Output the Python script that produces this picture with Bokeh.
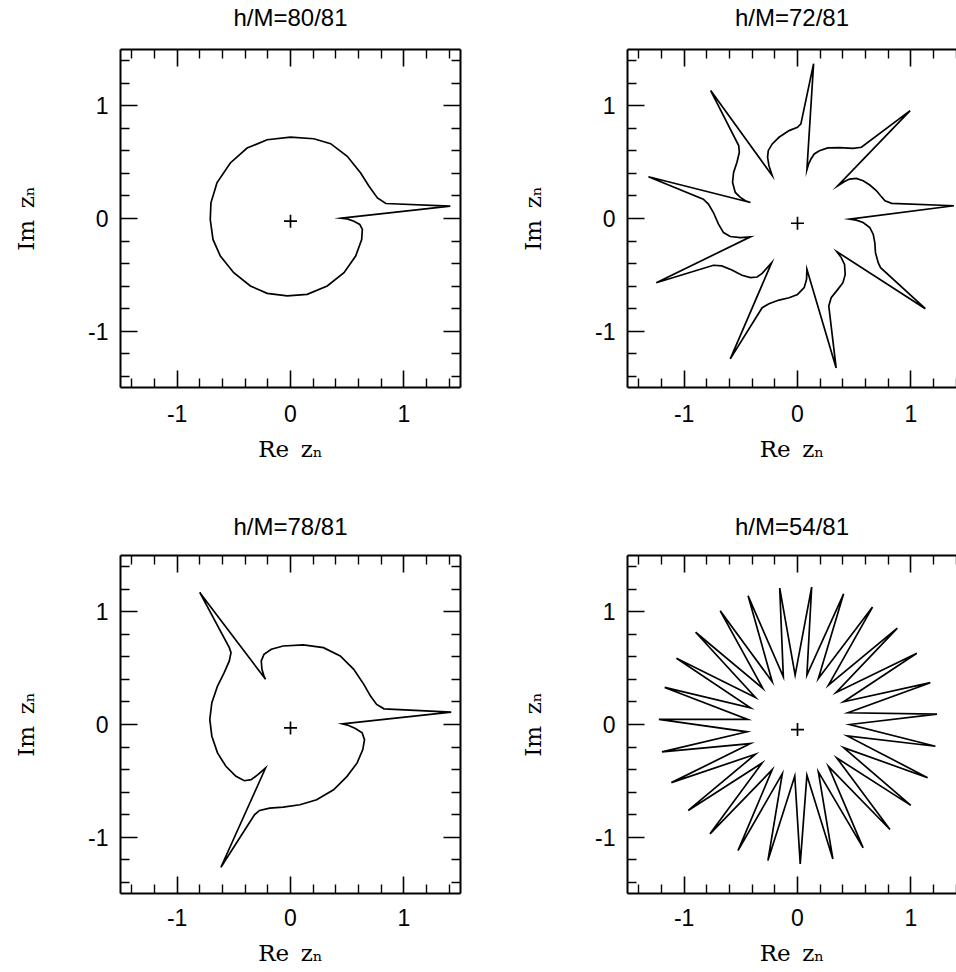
from bokeh.plotting import figure
from bokeh.models import LinearAxis, FixedTicker, Range1d
from bokeh.layouts import column, row
from bokeh.embed import file_html
from bokeh.resources import INLINE

# ---------------- data ----------------
TITLES = ["h/M=80/81", "h/M=72/81", "h/M=78/81", "h/M=54/81"]
MAJOR_TICKS = [-1, 0, 1]
MINOR_TICKS = [-1.4, -1.2, -0.8, -0.6, -0.4, -0.2, 0.2, 0.4, 0.6, 0.8, 1.2, 1.4]
TICK_LABELS = {-1: "-1", 0: "0", 1: "1"}
X_LABEL = "Re\u2002z\u2099"
Y_LABEL = "Im\u2002z\u2099"

# h/M = 80/81
RE_80 = [0.451, 1.410, 0.841, 0.767, 0.693, 0.619, 0.501, 0.354, 0.206, 0.000,
         -0.206, -0.383, -0.531, -0.649, -0.702, -0.708, -0.684, -0.619, -0.501,
         -0.354, -0.206, -0.029, 0.147, 0.324, 0.472, 0.575, 0.628, 0.634, 0.611,
         0.560, 0.501]
IM_80 = [0.003, 0.109, 0.133, 0.183, 0.286, 0.404, 0.552, 0.664, 0.708, 0.723,
         0.699, 0.625, 0.493, 0.316, 0.139, -0.009, -0.186, -0.333, -0.481,
         -0.599, -0.664, -0.687, -0.673, -0.599, -0.481, -0.333, -0.186, -0.097,
         -0.053, -0.024, -0.003]

# h/M = 72/81
RE_72 = [0.460, 1.380, 0.831, 0.772, 0.733, 0.697, 0.638, 0.579, 0.519, 0.460, 0.415,
         0.356, 0.994, 0.564, 0.490, 0.371, 0.267, 0.193, 0.148, 0.119, 0.098,
         0.083, 0.142, 0.030, 0.000, -0.074, -0.163, -0.223, -0.258, -0.264, -0.252,
         -0.223, -0.766, -0.519, -0.513, -0.534, -0.564, -0.573, -0.549, -0.504, -0.460,
         -0.415, -1.315, -0.831, -0.786, -0.742, -0.697, -0.653, -0.593, -0.504,
         -0.415, -1.246, -0.742, -0.668, -0.579, -0.490, -0.415, -0.356, -0.312,
         -0.228, -0.593, -0.312, -0.252, -0.163, -0.074, 0.000, 0.059, 0.080,
         0.083, 0.341, 0.276, 0.297, 0.356, 0.401, 0.421, 0.415, 0.386,
         0.347, 1.128, 0.733, 0.712, 0.688, 0.682, 0.668, 0.638, 0.579, 0.519]
IM_72 = [-0.006, 0.113, 0.134, 0.157, 0.202, 0.246, 0.297, 0.335, 0.356, 0.350, 0.329,
         0.291, 0.958, 0.632, 0.623, 0.629, 0.626, 0.602, 0.573, 0.528, 0.484,
         0.433, 1.374, 0.840, 0.810, 0.780, 0.721, 0.662, 0.602, 0.543, 0.469,
         0.380, 1.136, 0.647, 0.588, 0.499, 0.409, 0.320, 0.231, 0.187, 0.157,
         0.142, 0.371, 0.172, 0.128, 0.053, -0.050, -0.125, -0.160, -0.169,
         -0.163, -0.570, -0.415, -0.421, -0.457, -0.504, -0.525, -0.519, -0.487,
         -0.392, -1.246, -0.792, -0.757, -0.724, -0.703, -0.674, -0.614, -0.540,
         -0.451, -1.326, -0.777, -0.703, -0.629, -0.570, -0.496, -0.407, -0.347,
         -0.294, -0.801, -0.436, -0.392, -0.303, -0.214, -0.139, -0.080, -0.036, -0.015]

# h/M = 78/81
RE_78 = [0.457, 1.418, 0.825, 0.760, 0.706, 0.647, 0.558, 0.439, 0.291, 0.113, -0.065,
         -0.169, -0.234, -0.258, -0.252, -0.234,
         -0.220, -0.801, -0.540, -0.525, -0.540, -0.585, -0.644, -0.694, -0.712, -0.694,
         -0.644, -0.570, -0.481, -0.407, -0.347, -0.288,
         -0.220, -0.614, -0.318, -0.273, -0.184, -0.065, 0.083, 0.231, 0.380, 0.499,
         0.588, 0.638, 0.653, 0.632, 0.573, 0.513]
IM_78 = [0.006, 0.110, 0.139, 0.178, 0.252, 0.356, 0.490, 0.608, 0.682, 0.706, 0.697,
         0.668, 0.623, 0.564, 0.490, 0.430,
         0.401, 1.172, 0.682, 0.638, 0.564, 0.460, 0.341, 0.193, 0.045, -0.104,
         -0.252, -0.371, -0.460, -0.499, -0.490, -0.445,
         -0.386, -1.267, -0.801, -0.763, -0.742, -0.733, -0.712, -0.668, -0.579, -0.460,
         -0.341, -0.223, -0.134, -0.074, -0.036, -0.009]

# h/M = 54/81 : inner cusps and outer tips, counter-clockwise
CUSP_RE_54 = [0.460, 0.445, 0.407, 0.341, 0.273, 0.184, 0.083, -0.021, -0.125, -0.223,
              -0.306, -0.371, -0.415, -0.439, -0.445, -0.415, -0.371, -0.312, -0.223,
              -0.134, -0.024, 0.083, 0.184, 0.273, 0.347, 0.407, 0.439]
CUSP_IM_54 = [0.000, 0.104, 0.202, 0.285, 0.350, 0.409, 0.439, 0.439, 0.424, 0.380,
              0.320, 0.240, 0.148, 0.045, -0.065, -0.169, -0.264, -0.341, -0.401,
              -0.436, -0.457, -0.451, -0.421, -0.371, -0.297, -0.205, -0.101]
TIP_RE_54 = [1.231, 1.172, 1.053, 0.881, 0.662, 0.407, 0.125, -0.157, -0.436, -0.682,
             -0.899, -1.068, -1.172, -1.223, -1.196, -1.113, -0.964, -0.772, -0.525,
             -0.261, 0.024, 0.312, 0.579, 0.816, 1.000, 1.148, 1.217]
TIP_IM_54 = [0.092, 0.371, 0.632, 0.855, 1.042, 1.160, 1.220, 1.211, 1.142, 1.009,
             0.819, 0.588, 0.329, 0.045, -0.243, -0.516, -0.763, -0.970, -1.119,
             -1.208, -1.237, -1.193, -1.095, -0.932, -0.718, -0.472, -0.193]

# the "+" marking the origin sits slightly low in each panel
ORIGIN_MARK_Y = [-0.024, -0.042, -0.030, -0.045]

RE_54, IM_54 = [], []
for cr, ci, tr, ti in zip(CUSP_RE_54, CUSP_IM_54, TIP_RE_54, TIP_IM_54):
    RE_54 += [cr, tr]
    IM_54 += [ci, ti]

SANS = "Liberation Sans"
SERIF = "DejaVu Serif"
PX_PER_UNIT = 340 / 3.0


def style_axis(ax, with_labels):
    ax.ticker = FixedTicker(ticks=MAJOR_TICKS, minor_ticks=MINOR_TICKS)
    ax.axis_line_color = "black"
    ax.axis_line_width = 2
    ax.major_tick_in = 17
    ax.major_tick_out = 0
    ax.minor_tick_in = 9
    ax.minor_tick_out = 0
    ax.major_tick_line_color = "black"
    ax.minor_tick_line_color = "black"
    ax.major_tick_line_width = 1.6
    ax.minor_tick_line_width = 1.4
    ax.axis_label_text_font_style = "normal"
    ax.axis_label_text_color = "black"
    if with_labels:
        ax.major_label_overrides = TICK_LABELS
        ax.major_label_text_font = SANS
        ax.major_label_text_font_size = "23px"
        ax.major_label_text_color = "black"
        ax.axis_label_text_font = SERIF
        ax.axis_label_text_font_size = "23px"
    else:
        # frame side with ticks only: tick labels are not painted
        ax.major_label_text_color = None
        ax.major_label_text_font_size = "1px"
        ax.major_label_standoff = 0


def make_panel(title, re, im, mark_y, left_col, top_row):
    if left_col:
        fw, x_end, mb_right = 340, 1.5, 47
    else:
        fw = 329
        x_end, mb_right = -1.5 + fw / PX_PER_UNIT, 0
    p = figure(frame_width=fw, frame_height=338,
               x_range=Range1d(-1.5, x_end), y_range=Range1d(-1.5, 1.5),
               output_backend="svg", toolbar_location=None,
               min_border_left=120, min_border_right=mb_right,
               min_border_top=48 if top_row else 44,
               min_border_bottom=122 if top_row else 60,
               background_fill_color="white", border_fill_color="white",
               outline_line_color=None)
    p.grid.visible = False

    xa = p.xaxis[0]
    ya = p.yaxis[0]
    style_axis(xa, True)
    style_axis(ya, True)
    xa.axis_label = X_LABEL
    ya.axis_label = Y_LABEL
    xa.major_label_standoff = 17 if top_row else 15
    xa.axis_label_standoff = 11
    ya.major_label_standoff = 12
    ya.axis_label_standoff = 46

    # top side of the frame: ticks only, panel title as its label
    top = LinearAxis(axis_label=title)
    style_axis(top, False)
    top.axis_label_text_font = SANS
    top.axis_label_text_font_size = "24px"
    top.axis_label_standoff = 19 if top_row else 16
    p.add_layout(top, "above")
    if left_col:
        rt = LinearAxis()
        style_axis(rt, False)
        p.add_layout(rt, "right")

    p.patch(re, im, fill_color=None, line_color="black", line_width=1.7,
            line_join="miter")
    p.scatter([0], [mark_y], marker="cross", size=13, line_color="black",
              line_width=1.7)
    return p


p1 = make_panel(TITLES[0], RE_80, IM_80, ORIGIN_MARK_Y[0], True, True)
p2 = make_panel(TITLES[1], RE_72, IM_72, ORIGIN_MARK_Y[1], False, True)
p3 = make_panel(TITLES[2], RE_78, IM_78, ORIGIN_MARK_Y[2], True, False)
p4 = make_panel(TITLES[3], RE_54, IM_54, ORIGIN_MARK_Y[3], False, False)

layout = column(row(p1, p2), row(p3, p4))

open("out.html", "w").write(file_html(layout, INLINE))
